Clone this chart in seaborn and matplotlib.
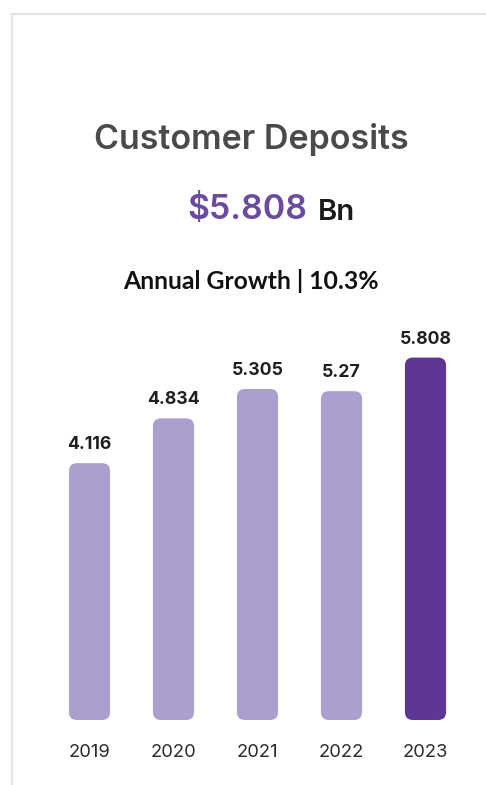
import matplotlib
matplotlib.use("Agg")
import matplotlib.pyplot as plt
from matplotlib.patches import FancyBboxPatch
from matplotlib.lines import Line2D
import seaborn as sns
import pandas as pd

# Customer deposits by year, in billions
years = ["2019", "2020", "2021", "2022", "2023"]
deposits = [4.116, 4.834, 5.305, 5.27, 5.808]
value_labels = ["4.116", "4.834", "5.305", "5.27", "5.808"]
headline_value = "$5.808"
headline_unit = "Bn"
growth_text = "Annual Growth | 10.3%"
title_text = "Customer Deposits"

LIGHT = "#ab9fcf"
DARK = "#5e3796"
colors = [LIGHT, LIGHT, LIGHT, LIGHT, DARK]

W, H, DPI = 486, 785, 100
sns.set_theme(style="white")
plt.rcParams["font.family"] = ["Inter", "DejaVu Sans"]

fig = plt.figure(figsize=(W / DPI, H / DPI), dpi=DPI)
fig.patch.set_facecolor("white")
renderer = fig.canvas.get_renderer()


def px(x, y):
    return x / W, 1 - y / H


def fit_width(t, target_px):
    """Scale a text's font size so its rendered width equals target_px."""
    w = t.get_window_extent(renderer).width
    t.set_fontsize(t.get_fontsize() * target_px / w)
    return t.get_fontsize()


# card border (top and left edges)
fig.add_artist(Line2D([11 / W, 1], [1 - 14 / H] * 2, color="#e4e4e4", lw=1.6))
fig.add_artist(Line2D([12 / W] * 2, [1 - 14 / H, 0], color="#e4e4e4", lw=1.6))

# bar axes: 84 px per category, bottom at y=720 px
ax_left, ax_right = 47.5, 467.5
ax_top, ax_bottom = 330, 720
ax = fig.add_axes([ax_left / W, 1 - ax_bottom / H,
                   (ax_right - ax_left) / W, (ax_bottom - ax_top) / H])
px_per_unit = 62.4
ymax = (ax_bottom - ax_top) / px_per_unit

df = pd.DataFrame({"year": years, "deposits": deposits})
sns.barplot(data=df, x="year", y="deposits", hue="year", palette=colors,
            legend=False, width=0.49, ax=ax, saturation=1)
ax.set_xlim(-0.5, 4.5)
ax.set_ylim(0, ymax)

# font size for the value labels, sized from the first label
probe = fig.text(0, 0, value_labels[0], fontsize=12, fontweight="bold")
label_size = fit_width(probe, 45)
probe.remove()

# rounded bars in place of plain rectangles
aspect = 84 / px_per_unit
radius_px = 8
bars = list(ax.patches)
for i, (bar, c) in enumerate(zip(bars, colors)):
    x0, y0 = bar.get_x(), bar.get_y()
    w, h = bar.get_width(), bar.get_height()
    bar.remove()
    ax.add_patch(FancyBboxPatch((x0, y0), w, h,
                                boxstyle=f"round,pad=0,rounding_size={radius_px / 84}",
                                mutation_aspect=aspect, facecolor=c,
                                edgecolor="none"))
    ax.text(x0 + w / 2, y0 + h + 10 / px_per_unit, value_labels[i],
            ha="center", va="bottom", fontsize=label_size,
            fontweight="bold", color="#1f1f1f")

for s in ax.spines.values():
    s.set_visible(False)
ax.set_yticks([])
ax.set_xlabel("")
ax.set_ylabel("")

probe = fig.text(0, 0, years[0], fontsize=12)
year_size = fit_width(probe, 42)
probe.remove()
ax.tick_params(axis="x", length=0, pad=17, labelsize=year_size,
               labelcolor="#2b2b2b")
ax.set_facecolor("none")

# header texts
t = fig.text(*px(251, 139), title_text, ha="center", va="center",
             fontsize=20, color="#4a4a4a", fontweight="semibold")
fit_width(t, 315)
t = fig.text(*px(307, 210), headline_value, ha="right", va="center",
             fontsize=23, color="#6a4ba0", fontweight="semibold")
fit_width(t, 120)
t = fig.text(*px(318, 212), headline_unit, ha="left", va="center",
             fontsize=15, color="#1a1a1a", fontweight="semibold")
fit_width(t, 37)
t = fig.text(*px(251, 281), growth_text, ha="center", va="center",
             fontsize=14, color="#111111", fontweight="bold",
             family=["Lato", "DejaVu Sans"])
fit_width(t, 258)

fig.savefig("out.png", dpi=DPI, facecolor="white")
